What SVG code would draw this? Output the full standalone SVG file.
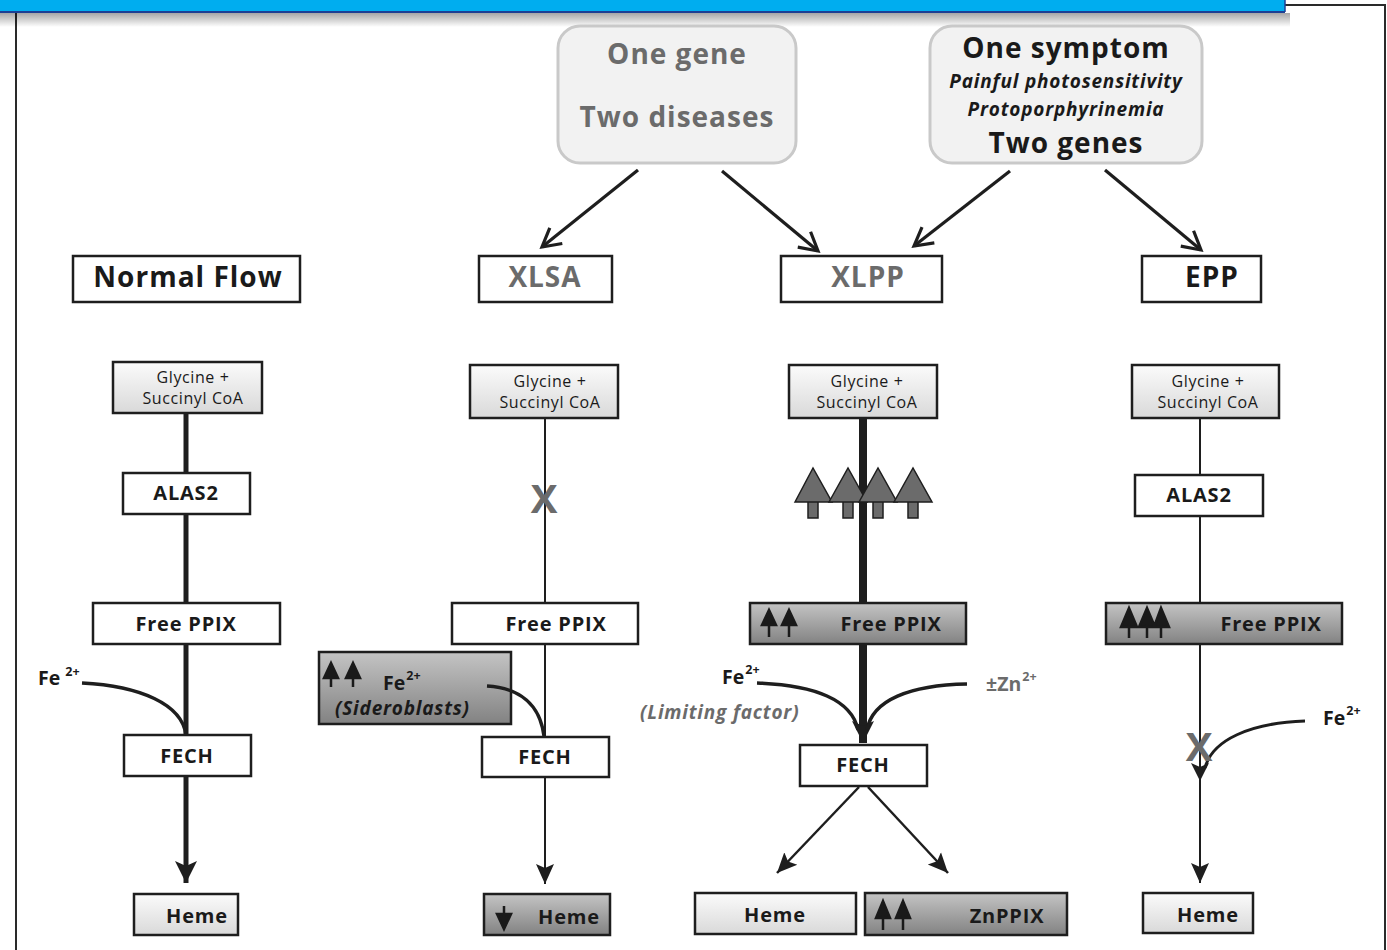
<svg xmlns="http://www.w3.org/2000/svg" width="1387" height="950" viewBox="0 0 1387 950">
<defs>
<linearGradient id="gLight" x1="0" y1="0" x2="0" y2="1">
<stop offset="0" stop-color="#fbfbfb"/><stop offset="1" stop-color="#d9d9d9"/>
</linearGradient>
<linearGradient id="gDark" x1="0" y1="0" x2="0" y2="1">
<stop offset="0" stop-color="#c4c4c4"/><stop offset="1" stop-color="#828282"/>
</linearGradient>
<linearGradient id="gShadow" x1="0" y1="0" x2="0" y2="1">
<stop offset="0" stop-color="#000" stop-opacity="0.35"/><stop offset="1" stop-color="#000" stop-opacity="0"/>
</linearGradient>
<marker id="open" markerUnits="userSpaceOnUse" markerWidth="30" markerHeight="30" viewBox="0 0 30 30" refX="26" refY="15" orient="auto">
<path d="M8,5 L26,15 L8,25" fill="none" stroke="#1e1e1e" stroke-width="3.2"/>
</marker>
<marker id="tri" markerUnits="userSpaceOnUse" markerWidth="24" markerHeight="24" viewBox="0 0 24 24" refX="22" refY="12" orient="auto">
<path d="M0,1 L22,12 L0,23 L5,12 Z" fill="#1e1e1e"/>
</marker>
<marker id="triS" markerUnits="userSpaceOnUse" markerWidth="22" markerHeight="22" viewBox="0 0 22 22" refX="20" refY="11" orient="auto">
<path d="M0,2 L20,11 L0,20 L4,11 Z" fill="#1e1e1e"/>
</marker>
</defs>
<style>
.box{stroke:#1e1e1e;stroke-width:2.5}
.w{fill:#fff}
.lt{fill:url(#gLight)}
.dk{fill:url(#gDark)}
.t{font-family:"Open Sans","Liberation Sans",sans-serif;fill:#1a1a1a}
.b{font-weight:bold}
.i{font-style:italic;font-weight:bold;font-size:19px;letter-spacing:0.8px}
.gr{fill:#6b6b6b}
.hd{font-size:28px;font-weight:bold;text-anchor:middle;letter-spacing:1px}
.gly{font-size:16px;text-anchor:middle;letter-spacing:0.6px}
.lab{font-size:20px;font-weight:bold;text-anchor:middle;letter-spacing:0.8px}
.ln{stroke:#1e1e1e;fill:none}
.ua{fill:#1a1a1a;stroke:#1a1a1a}
.big{fill:#6b6b6b;stroke:#1e1e1e;stroke-width:1.5}
.x{font-family:"Open Sans","Liberation Sans",sans-serif;font-weight:bold;font-size:40px;fill:#6b6b6b;text-anchor:middle}
</style>
<rect width="1387" height="950" fill="#fff"/>
<!-- frame -->
<rect x="16" y="5" width="1369" height="960" fill="none" stroke="#2a2a2a" stroke-width="2"/>
<!-- header bar with shadow -->
<rect x="0" y="13" width="1290" height="14" fill="url(#gShadow)"/>
<rect x="0" y="0" width="1285" height="12" fill="#00adef"/>
<line x1="0" y1="12" x2="1285" y2="12" stroke="#1c3f94" stroke-width="2"/>
<line x1="1285" y1="0" x2="1285" y2="12" stroke="#1c3f94" stroke-width="1.5"/>

<g id="one-gene">
<rect x="558" y="26" width="238" height="137" rx="22" fill="#f2f2f2" stroke="#c9c9c9" stroke-width="3"/>
<text class="t hd gr" x="677" y="64">One gene</text>
<text class="t hd gr" x="677" y="127">Two diseases</text>
</g>
<g id="one-symptom">
<rect x="930" y="26" width="272" height="137" rx="22" fill="#f2f2f2" stroke="#c9c9c9" stroke-width="3"/>
<text class="t hd" x="1066" y="58">One symptom</text>
<text class="t i" x="1066" y="88" text-anchor="middle">Painful photosensitivity</text>
<text class="t i" x="1066" y="116" text-anchor="middle">Protoporphyrinemia</text>
<text class="t hd" x="1066" y="153">Two genes</text>
</g>

<g id="normal-flow"><rect class="box w" x="73" y="256" width="227" height="46"/><text class="t hd" x="188" y="287">Normal Flow</text></g>
<g id="xlsa"><rect class="box w" x="479" y="256" width="133" height="46"/><text class="t hd gr" x="545" y="287">XLSA</text></g>
<g id="xlpp"><rect class="box w" x="781" y="256" width="161" height="46"/><text class="t hd gr" x="868" y="287">XLPP</text></g>
<g id="epp"><rect class="box w" x="1142" y="256" width="119" height="46"/><text class="t hd" x="1212" y="287">EPP</text></g>

<!-- column 1 -->
<g id="n-gly"><rect class="box lt" x="113" y="362" width="149" height="51"/><text class="t gly" x="193" y="383">Glycine +</text><text class="t gly" x="193" y="404">Succinyl CoA</text></g>
<g id="n-alas2"><rect class="box w" x="123" y="473" width="127" height="41"/><text class="t lab" x="186" y="500">ALAS2</text></g>
<g id="n-ppix"><rect class="box w" x="93" y="603" width="187" height="41"/><text class="t lab" x="186" y="631">Free PPIX</text></g>
<g id="n-fe"><text class="t b" x="38" y="685" font-size="19.5">Fe<tspan dx="5" dy="-9" font-size="12.5">2+</tspan></text></g>
<g id="n-fech"><rect class="box w" x="124" y="735" width="127" height="41"/><text class="t lab" x="187" y="763">FECH</text></g>
<g id="n-heme"><rect class="box lt" x="134" y="894" width="104" height="41"/><text class="t lab" x="197" y="923">Heme</text></g>

<!-- column 2 -->
<g id="s-gly"><rect class="box lt" x="470" y="365" width="148" height="53"/><text class="t gly" x="550" y="387">Glycine +</text><text class="t gly" x="550" y="408">Succinyl CoA</text></g>
<g id="s-ppix"><rect class="box w" x="452" y="603" width="186" height="41"/><text class="t lab" x="556" y="631">Free PPIX</text></g>
<g id="s-fe">
<rect class="box dk" x="319" y="652" width="192" height="72"/>
<path class="ua" d="M331,687 V676 M324,678 L331,663 L338,678 Z M353,687 V676 M346,678 L353,663 L360,678 Z" stroke-width="2.5"/>
<text class="t b" x="383" y="690" font-size="19.5" fill="#2a2a2a">Fe<tspan dx="1" dy="-10" font-size="12.5">2+</tspan></text>
<text class="t i" x="335" y="715" fill="#2a2a2a">(Sideroblasts)</text>
</g>
<g id="s-fech"><rect class="box w" x="482" y="737" width="127" height="40"/><text class="t lab" x="545" y="764">FECH</text></g>
<g id="s-heme">
<rect class="box dk" x="484" y="894" width="126" height="41"/>
<path class="ua" d="M504,906 V917 M497,914 L504,929 L511,914 Z" stroke-width="2.5"/>
<text class="t lab" x="569" y="924">Heme</text>
</g>

<!-- column 3 -->
<g id="p-gly"><rect class="box lt" x="789" y="365" width="148" height="53"/><text class="t gly" x="867" y="387">Glycine +</text><text class="t gly" x="867" y="408">Succinyl CoA</text></g>
<g id="p-ppix">
<rect class="box dk" x="750" y="603" width="216" height="41"/>
<path class="ua" d="M769,637 V622 M762,625 L769,610 L776,625 Z M789,637 V622 M782,625 L789,610 L796,625 Z" stroke-width="2.5"/>
<text class="t lab" x="891" y="631">Free PPIX</text>
</g>
<g id="p-fe">
<text class="t b" x="722" y="684" font-size="19.5">Fe<tspan dx="1" dy="-10" font-size="12.5">2+</tspan></text>
<text class="t i gr" x="640" y="719">(Limiting factor)</text>
</g>
<g id="p-zn"><text class="t b gr" x="986" y="691" font-size="19.5">±Zn<tspan dx="1" dy="-10" font-size="12.5">2+</tspan></text></g>
<g id="p-fech"><rect class="box w" x="800" y="745" width="127" height="41"/><text class="t lab" x="863" y="772">FECH</text></g>
<g id="p-heme"><rect class="box lt" x="695" y="893" width="161" height="41"/><text class="t lab" x="775" y="922">Heme</text></g>
<g id="p-znppix">
<rect class="box dk" x="865" y="893" width="202" height="42"/>
<path class="ua" d="M883,930 V915 M876,918 L883,901 L890,918 Z M903,930 V915 M896,918 L903,901 L910,918 Z" stroke-width="2.5"/>
<text class="t lab" x="1007" y="923">ZnPPIX</text>
</g>

<!-- column 4 -->
<g id="e-gly"><rect class="box lt" x="1132" y="365" width="147" height="53"/><text class="t gly" x="1208" y="387">Glycine +</text><text class="t gly" x="1208" y="408">Succinyl CoA</text></g>
<g id="e-alas2"><rect class="box w" x="1135" y="475" width="128" height="41"/><text class="t lab" x="1199" y="502">ALAS2</text></g>
<g id="e-ppix">
<rect class="box dk" x="1106" y="603" width="236" height="41"/>
<path class="ua" d="M1129,638 V624 M1121,627 L1129,608 L1137,627 Z M1147,638 V624 M1139,627 L1147,608 L1155,627 Z M1161,638 V624 M1154,627 L1161,608 L1169,627 Z" stroke-width="2.5"/>
<text class="t lab" x="1271" y="631">Free PPIX</text>
</g>
<g id="e-fe"><text class="t b" x="1323" y="725" font-size="19.5">Fe<tspan dx="1" dy="-10" font-size="12.5">2+</tspan></text></g>
<g id="e-heme"><rect class="box lt" x="1143" y="893" width="110" height="40"/><text class="t lab" x="1208" y="922">Heme</text></g>

<g id="connectors">
<line class="ln" x1="638" y1="170" x2="542" y2="247" stroke-width="3.2" marker-end="url(#open)"/>
<line class="ln" x1="722" y1="171" x2="818" y2="251" stroke-width="3.2" marker-end="url(#open)"/>
<line class="ln" x1="1010" y1="171" x2="914" y2="246" stroke-width="3.2" marker-end="url(#open)"/>
<line class="ln" x1="1105" y1="170" x2="1201" y2="250" stroke-width="3.2" marker-end="url(#open)"/>
<!-- col1 -->
<line class="ln" x1="186" y1="414" x2="186" y2="473" stroke-width="5"/>
<line class="ln" x1="186" y1="515" x2="186" y2="602" stroke-width="5"/>
<line class="ln" x1="186" y1="645" x2="186" y2="734" stroke-width="5"/>
<path class="ln" d="M82,683 C140,686 182,704 186,735" stroke-width="3.5"/>
<line class="ln" x1="186" y1="777" x2="186" y2="883" stroke-width="5" marker-end="url(#tri)"/>
<!-- col2 -->
<line class="ln" x1="545" y1="419" x2="545" y2="602" stroke-width="2"/>
<line class="ln" x1="545" y1="645" x2="545" y2="736" stroke-width="2"/>
<path class="ln" d="M487,686 C520,688 540,705 544,736" stroke-width="3.5"/>
<line class="ln" x1="545" y1="778" x2="545" y2="884" stroke-width="2" marker-end="url(#triS)"/>
<!-- col3 -->
<line class="ln" x1="863" y1="419" x2="863" y2="602" stroke-width="8"/>
<line class="ln" x1="863" y1="645" x2="863" y2="743" stroke-width="8" marker-end="url(#tri)"/>
<path class="ln" d="M757,683 C815,685 852,700 858,730" stroke-width="3.5"/>
<path class="ln" d="M967,684 C910,685 872,700 867,730" stroke-width="3.5"/>
<line class="ln" x1="859" y1="787" x2="777" y2="873" stroke-width="2.5" marker-end="url(#triS)"/>
<line class="ln" x1="868" y1="787" x2="948" y2="873" stroke-width="2.5" marker-end="url(#triS)"/>
<!-- col4 -->
<line class="ln" x1="1200" y1="419" x2="1200" y2="474" stroke-width="2"/>
<line class="ln" x1="1200" y1="517" x2="1200" y2="602" stroke-width="2"/>
<line class="ln" x1="1200" y1="645" x2="1200" y2="883" stroke-width="2" marker-end="url(#triS)"/>
<path class="ln" d="M1305,721 C1250,723 1212,740 1205,768" stroke-width="3"/>
<path d="M1191,763 L1200,781 L1209,763 L1200,767 Z" fill="#1e1e1e"/>
</g>

<g id="s-x"><text class="x" x="544" y="513">X</text></g>
<g id="e-x"><text class="x" x="1199" y="761">X</text></g>
<g id="p-up">
<path class="big" d="M808,502 H818 V518 H808 Z M795,502 L813,468 L832,502 Z"/>
<path class="big" d="M843,502 H853 V518 H843 Z M829,502 L848,468 L867,502 Z"/>
<path class="big" d="M873,502 H883 V518 H873 Z M859,502 L878,468 L897,502 Z"/>
<path class="big" d="M908,502 H918 V518 H908 Z M894,502 L913,468 L932,502 Z"/>
</g>
</svg>
